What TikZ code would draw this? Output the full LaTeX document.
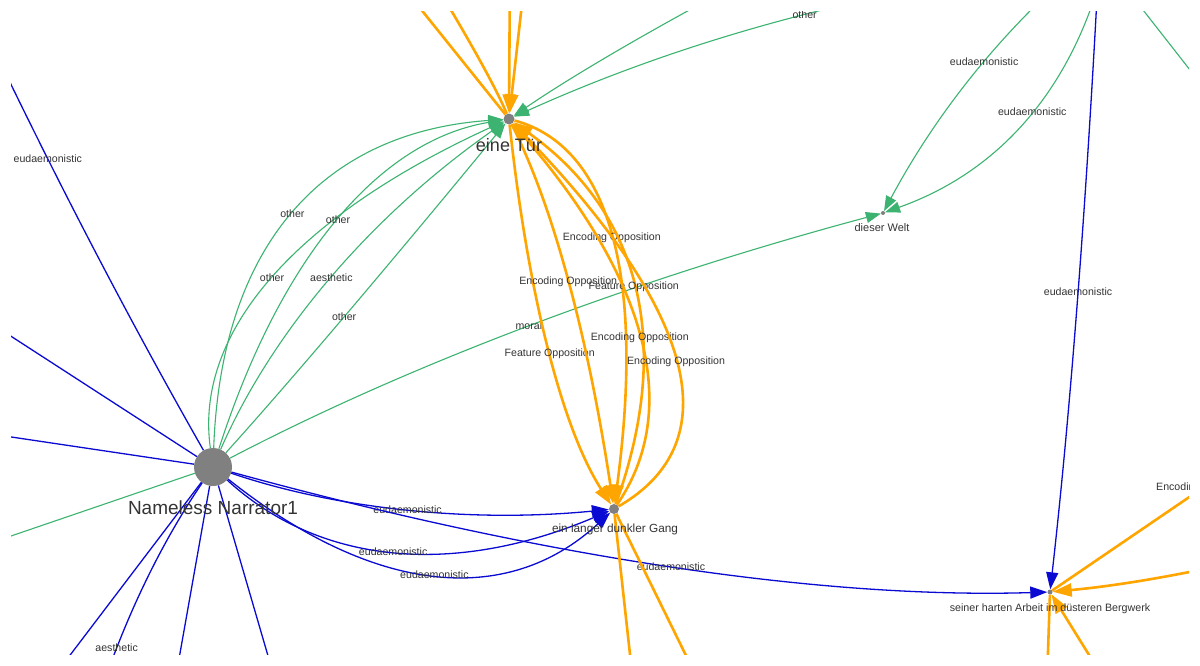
\documentclass[tikz,border=0pt]{standalone}
\usepackage{fontspec}
\setmainfont{Liberation Sans}
\usetikzlibrary{arrows.meta,calc}
\definecolor{eg}{RGB}{60,179,113}
\definecolor{eb}{RGB}{10,10,210}
\definecolor{eo}{RGB}{255,165,0}
\definecolor{nd}{RGB}{128,128,128}
\definecolor{tx}{RGB}{52,52,52}
\tikzset{
  gr/.style={draw=eg, line width=1.1pt},
  bl/.style={draw=eb, line width=1.3pt},
  orr/.style={draw=eo, line width=2.6pt},
  ga/.style={gr, -{Triangle[length=15pt,width=11pt]}},
  ba/.style={bl, -{Triangle[length=17pt,width=12pt]}},
  oa/.style={orr, -{Triangle[length=19pt,width=13pt]}},
  elab/.style={font=\fontsize{10.6}{12}\selectfont, text=tx, inner sep=0pt, text height=7.6pt, text depth=0pt},
  biglab/.style={font=\fontsize{18}{21}\selectfont, text=tx, inner sep=0pt, text height=13pt, text depth=0pt},
  smlab/.style={font=\fontsize{11}{13}\selectfont, text=tx, inner sep=0pt, text height=7.9pt, text depth=0pt},
  gnode/.style={circle, fill=nd, inner sep=0pt},
}
% quadratic edge through midpoint #3 (label there)
\newcommand\qe[5]{\draw[#1] (#2) .. controls ($1.3333*#3-0.3333*(#4)$) and ($1.3333*#3-0.3333*(#2)$) .. node[elab]{#5} (#4);}
% quadratic edge with control point #3
\newcommand\qc[4]{\draw[#1] (#2) .. controls ($(#2)!0.6667!#3$) and ($(#4)!0.6667!#3$) .. (#4);}
\begin{document}
\begin{tikzpicture}[x=1pt,y=-1pt]
\useasboundingbox (0,0) rectangle (1200,665);
\fill[white] (0,0) rectangle (1200,665);
\begin{scope}
\clip (11,11) rectangle (1189,654);
% nodes
\node[gnode, minimum size=38pt] (N) at (213,467) {};
\node[gnode, minimum size=11pt] (T) at (509,119) {};
\node[gnode, minimum size=10pt] (G) at (614,509) {};
\node[gnode, minimum size=4pt] (W) at (883,213) {};
\node[gnode, minimum size=5pt] (B) at (1050,592) {};
% off-screen ends
\coordinate (o1) at (-100,-155);
\coordinate (o2) at (-150,232);
\coordinate (o3) at (-150,413);
\coordinate (o4) at (-150,591);
\coordinate (o5) at (-40,800);
\coordinate (o6) at (60,850);
\coordinate (o7) at (154,800);
\coordinate (o8) at (310,800);
\coordinate (o9) at (253,-200);
\coordinate (o10) at (320,-200);
\coordinate (o11) at (511,-200);
\coordinate (o12) at (545,-200);
\coordinate (o13) at (900,-100);
\coordinate (o14) at (1120,-40);
\coordinate (o15) at (1110,-60);
\coordinate (o16) at (1100,-60);
\coordinate (o17) at (1100,-45);
\coordinate (o18) at (1280,185);
\coordinate (o19) at (646,800);
\coordinate (o20) at (757,800);
\coordinate (o21) at (1358,382);
\coordinate (o22) at (1400,520);
\coordinate (o23) at (1043,800);
\coordinate (o24) at (1179,800);
% blue edges from narrator to outside
\qe{bl}{N}{(49,161)}{o1}{eudaemonistic}
\draw[bl] (N) -- (o2);
\draw[bl] (N) -- (o3);
\draw[bl] (N) -- (o5);
\qe{bl}{N}{(118,646)}{o6}{aesthetic}
\draw[bl] (N) -- (o7);
\draw[bl] (N) -- (o8);
\draw[gr] (N) -- (o4);
% green narrator -> eine Tuer
\qe{ga}{N}{(293,216)}{T}{other}
\qe{ga}{N}{(273,280)}{T}{other}
\qe{ga}{N}{(338,222)}{T}{other}
\qe{ga}{N}{(331,279)}{T}{aesthetic}
\qe{ga}{N}{(343,318)}{T}{other}
% green narrator -> dieser Welt
\qe{ga}{N}{(527,327)}{W}{moral}
% green from top right
\qc{ga}{o13}{(640,30)}{T}
\qe{ga}{o14}{(804,15)}{T}{other}
\qe{ga}{o15}{(984,62)}{W}{eudaemonistic}
\qe{ga}{o15}{(1032,112)}{W}{eudaemonistic}
\draw[gr] (o17) -- (o18);
% blue to Gang and Bergwerk
\qe{ba}{N}{(406,509)}{G}{eudaemonistic}
\qe{ba}{N}{(392,550)}{G}{eudaemonistic}
\qe{ba}{N}{(433,573)}{G}{eudaemonistic}
\qe{ba}{N}{(669,566)}{B}{eudaemonistic}
\qe{ba}{o16}{(1078,292)}{B}{eudaemonistic}
% orange around eine Tuer
\draw[orr] (T) -- (o9);
\qc{orr}{T}{(478,45)}{o10}
\draw[oa] (o11) -- (T);
\draw[oa] (o12) -- (T);
\qe{oa}{T}{(550,353)}{G}{Feature Opposition}
\qe{oa}{T}{(568,281)}{G}{Encoding Opposition}
\qe{oa}{T}{(611,237)}{G}{Encoding Opposition}
\qe{oa}{G}{(633,286)}{T}{Feature Opposition}
\qe{oa}{G}{(639,337)}{T}{Encoding Opposition}
\qe{oa}{G}{(675,361)}{T}{Encoding Opposition}
\draw[orr] (G) -- (o19);
\draw[orr] (G) -- (o20);
% orange around Bergwerk
\draw[orr] (B) -- node[elab]{Encoding Opposition} (o21);
\qc{oa}{o22}{(1200,578)}{B}
\draw[orr] (B) -- (o23);
\draw[oa] (o24) -- (B);
% node labels
\node[biglab, font=\fontsize{19}{22}\selectfont] (Nl) at (213,508) {Nameless Narrator1};
\node[biglab] (Tl) at (509,145) {eine Tür};
\node[smlab, font=\fontsize{11.8}{14}\selectfont] (Gl) at (615,529) {ein langer dunkler Gang};
\node[smlab] (Wl) at (882,228) {dieser Welt};
\node[smlab, font=\fontsize{10.7}{13}\selectfont] (Bl) at (1050,608) {seiner harten Arbeit im düsteren Bergwerk};
\end{scope}
\end{tikzpicture}
\end{document}
